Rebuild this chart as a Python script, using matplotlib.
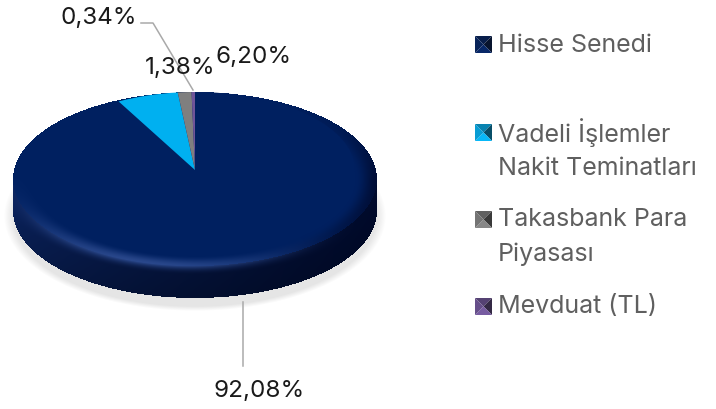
import numpy as np
import matplotlib
matplotlib.use("Agg")
import matplotlib.pyplot as plt
from matplotlib.patches import Polygon

# data
LEGEND_NAMES = ["Hisse Senedi", "Vadeli İşlemler\nNakit Teminatları", "Takasbank Para\nPiyasası", "Mevduat (TL)"]
VALUES = [92.08, 6.20, 1.38, 0.34]
VALUE_LABELS = ["92,08%", "6,20%", "1,38%", "0,34%"]
COLORS = ["#002060", "#00b0f0", "#7f7f7f", "#6f5499"]

W, H = 716, 409
FONT = "Inter"
LEGEND_GREY = "#5f5f5f"
LEADER_GREY = "#a9a9a9"

# pixel positions of the labels / legend entries
LABEL_POS = [(259, 391), (254, 57), (180, 68), (99, 18)]
LEGEND_Y = [(44, 46), (132, 133), (219, 219), (306, 307)]


def body_image():
    """shaded extruded disc + soft shadow, as an RGBA array"""
    cx, cy, rx, ry, depth = 195.0, 179.0, 182.0, 87.0, 32.0
    yy, xx = np.mgrid[0:H, 0:W] + 0.5
    img = np.ones((H, W, 4))
    img[..., 3] = 0

    # shadow
    ds = np.hypot((xx - cx) / (rx + 9), (yy - (cy + depth + 5)) / (ry + 8))
    a = np.clip((1.0 - ds) / 0.05, 0, 1)
    img[..., :3] = np.array([0.89, 0.89, 0.89])
    img[..., 3] = a * 0.9

    ux = (xx - cx) / rx
    uy = (yy - cy) / ry
    norm = np.maximum(np.hypot(ux, uy), 1e-6)
    light = (ux * -0.3 + uy * 0.95) / norm
    dtop = np.hypot(ux, uy)
    dbot = np.hypot(ux, (yy - cy - depth) / ry)
    hi_amt = np.clip(light, 0, 1) ** 3

    # side wall, fades out of the bevel highlight
    inside_x = np.abs(xx - cx) < rx
    side = (dbot < 1) | (inside_x & (yy > cy) & (yy < cy + depth))
    t = np.clip((xx - cx + rx) / (2 * rx), 0, 1)[..., None]
    v = np.clip((yy - cy) / (ry + depth), 0, 1)[..., None]
    side_rgb = (1 - t) * np.array([10, 34, 92]) / 255 + t * np.array([0, 10, 44]) / 255
    side_rgb = side_rgb * (1.05 - 0.35 * v)
    hi = np.array([42, 72, 140]) / 255
    fade = (np.clip(1 - (dtop - 1) / 0.1, 0, 1) ** 2 * hi_amt)[..., None]
    side_rgb = side_rgb * (1 - fade) + hi * fade
    img[side, :3] = side_rgb[side]
    img[side, 3] = 1

    # top face with bevel
    face = dtop < 1
    p = np.clip((dtop - 0.88) / 0.12, 0, 1)
    p = p * p * (3 - 2 * p)
    base = np.array([0, 32, 96]) / 255
    lo = np.array([0, 12, 50]) / 255
    m_hi = (hi_amt * p)[..., None]
    m_lo = (np.clip(-(ux * -0.95 + uy * 0.1) / norm, 0, 1) ** 2 * p * np.clip(1 + uy, 0, 1))[..., None]
    rgb = base * (1 - m_hi) + hi * m_hi
    rgb = rgb * (1 - m_lo) + lo * m_lo
    img[face, :3] = rgb[face]
    img[face, 3] = 1
    return img


def pyramid(ax, x0, y0, size, color):
    """legend key: square split into four shaded triangles"""
    base = np.array(matplotlib.colors.to_rgb(color))
    c = [x0 + size / 2, y0 + size / 2]
    corners = [(x0, y0), (x0 + size, y0), (x0 + size, y0 + size), (x0, y0 + size)]
    shades = [0.7, 0.4, 1.0, 0.85]  # top, right, bottom, left
    for i, s in enumerate(shades):
        tri = [corners[i], corners[(i + 1) % 4], c]
        ax.add_patch(Polygon(tri, closed=True, lw=0, color=np.clip(base * s + 0.03, 0, 1)))


fig = plt.figure(figsize=(W / 100, H / 100), dpi=100)

ax_bg = fig.add_axes([0, 0, 1, 1])
ax_bg.set_xlim(0, W)
ax_bg.set_ylim(H, 0)
ax_bg.axis("off")
ax_bg.imshow(body_image(), extent=(0, W, H, 0), aspect="auto", interpolation="bilinear", zorder=1)

# slices, apex at (195, 170)
ax_pie = fig.add_axes([(195 - 160) / W, (H - 170 - 78) / H, 320 / W, 156 / H])
ax_pie.pie(VALUES, colors=COLORS, startangle=90, counterclock=False, radius=1.0,
           wedgeprops={"linewidth": 0})
ax_pie.set_aspect("auto")
ax_pie.set_xlim(-1, 1)
ax_pie.set_ylim(-1, 1)
ax_pie.axis("off")

# overlay for text and leaders
ax = fig.add_axes([0, 0, 1, 1])
ax.set_xlim(0, W)
ax.set_ylim(H, 0)
ax.axis("off")
ax.patch.set_alpha(0)

ax.plot([141, 153, 193], [23, 23, 90], color=LEADER_GREY, lw=1.1)
ax.plot([243, 243], [302, 366], color=LEADER_GREY, lw=1.1)

for lab, (x, y) in zip(VALUE_LABELS, LABEL_POS):
    ax.text(x, y, lab, ha="center", va="center", fontsize=17.4, color="#1a1a1a", family=FONT)

for name, col, (ky, ty) in zip(LEGEND_NAMES, COLORS, LEGEND_Y):
    pyramid(ax, 475, ky - 8, 17, col)
    lines = name.split("\n")
    for i, line in enumerate(lines):
        ax.text(498, ty + i * 35.5, line, ha="left", va="center", fontsize=18,
                color=LEGEND_GREY, family=FONT)

fig.savefig("out.png", dpi=100)
plt.close(fig)
